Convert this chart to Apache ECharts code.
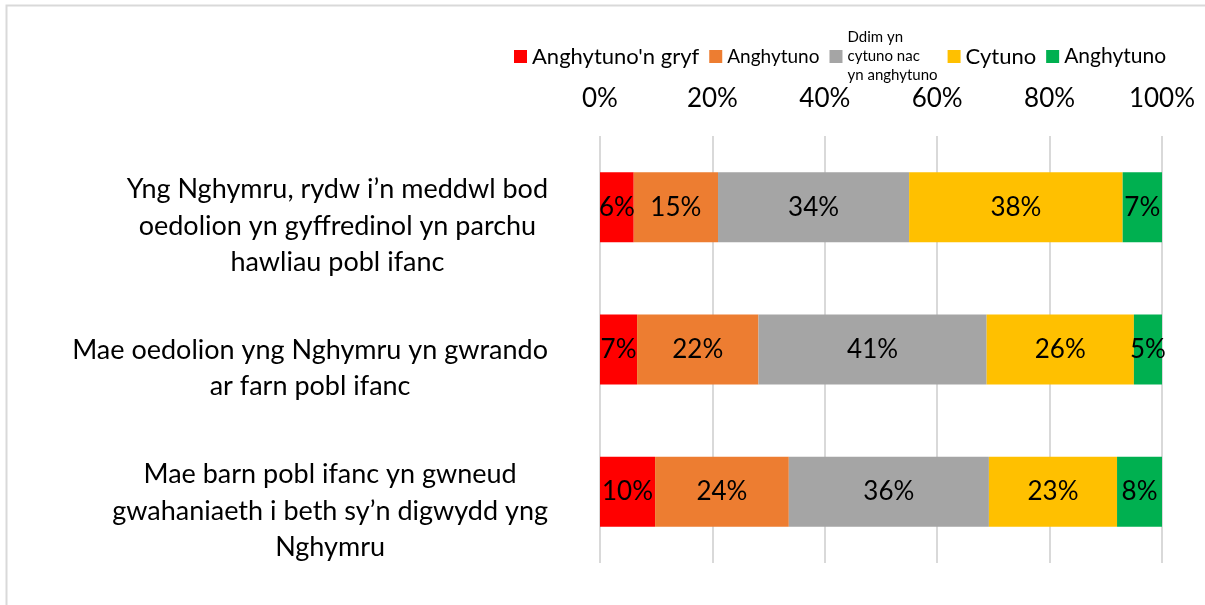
<!DOCTYPE html>
<html>
<head>
<meta charset="utf-8">
<script src="https://cdn.jsdelivr.net/npm/echarts@6/dist/echarts.min.js"></script>
<style>
html, body { margin: 0; padding: 0; background: #fff; }
#chart { width: 1205px; height: 605px; }
</style>
</head>
<body>
<div id="chart"></div>
<script>
// categories (top to bottom)
var categories = [
    'Yng Nghymru, rydw i\u2019n meddwl bod\noedolion yn gyffredinol yn parchu\nhawliau pobl ifanc',
    'Mae oedolion yng Nghymru yn gwrando\nar farn pobl ifanc',
    'Mae barn pobl ifanc yn gwneud\ngwahaniaeth i beth sy\u2019n digwydd yng\nNghymru'
];
var seriesNames = ["Anghytuno'n gryf", 'Anghytuno', 'Ddim yn cytuno nac yn anghytuno', 'Cytuno', 'Anghytuno '];
var stronglyDisagree = [6, 6.6, 9.8];
var disagree = [15, 21.6, 23.8];
var neutral = [34, 40.6, 35.6];
var agree = [38, 26.2, 22.8];
var lastGroup = [7, 5.0, 8.0];
var xTicks = [0, 20, 40, 60, 80, 100];

var colors = ['#FF0000', '#ED7D31', '#A5A5A5', '#FFC000', '#00B050'];
var values = [stronglyDisagree, disagree, neutral, agree, lastGroup];
var font = 'Lato, "Liberation Sans", sans-serif';

var chart = echarts.init(document.getElementById('chart'));

var series = seriesNames.map(function (name, i) {
    return {
        name: name,
        type: 'bar',
        stack: 'total',
        barWidth: 70,
        itemStyle: { color: colors[i] },
        label: {
            show: true,
            position: 'inside',
            color: '#000',
            fontFamily: font,
            fontSize: 26,
            formatter: function (p) { return Math.round(p.value) + '%'; }
        },
        data: values[i]
    };
});

var option = {
    animation: false,
    color: colors,
    graphic: [{
        type: 'rect',
        shape: { x: 6.5, y: 5.5, width: 1400, height: 800 },
        style: { fill: 'none', stroke: '#d9d9d9', lineWidth: 2 },
        silent: true
    }],
    legend: {
        left: 509,
        top: 23,
        icon: 'rect',
        itemWidth: 13,
        itemHeight: 13,
        itemGap: 10,
        textStyle: { fontFamily: font, color: '#000', fontSize: 22 },
        formatter: function (name) {
            if (name === seriesNames[2]) return 'Ddim yn\ncytuno nac\nyn anghytuno';
            return name;
        },
        data: [
            { name: seriesNames[0], textStyle: { fontSize: 22 } },
            { name: seriesNames[1], textStyle: { fontSize: 19 } },
            { name: seriesNames[2], textStyle: { fontSize: 15, lineHeight: 19, align: 'center' } },
            { name: seriesNames[3], textStyle: { fontSize: 22 } },
            { name: seriesNames[4], textStyle: { fontSize: 21 } }
        ]
    },
    grid: {
        left: 600,
        right: 43,
        top: 136,
        bottom: 42,
        containLabel: false
    },
    xAxis: {
        type: 'value',
        position: 'top',
        min: xTicks[0],
        max: xTicks[xTicks.length - 1],
        interval: 20,
        axisLine: { show: false },
        axisTick: { show: false },
        axisLabel: {
            margin: 24,
            color: '#000',
            fontFamily: font,
            fontSize: 26,
            formatter: '{value}%'
        },
        splitLine: { lineStyle: { color: '#d9d9d9', width: 2 } }
    },
    yAxis: {
        type: 'category',
        inverse: true,
        data: categories,
        axisLine: { show: false },
        axisTick: { show: false },
        axisLabel: {
            margin: 52,
            align: 'right',
            padding: [38, 0, 0, 0],
            formatter: function (v) {
                return v.split('\n').map(function (l) { return '{c|' + l + '}'; }).join('\n');
            },
            rich: {
                c: { align: 'center', fontFamily: font, fontSize: 27, lineHeight: 36.5, color: '#000' }
            }
        }
    },
    series: series
};

chart.setOption(option);
</script>
</body>
</html>
